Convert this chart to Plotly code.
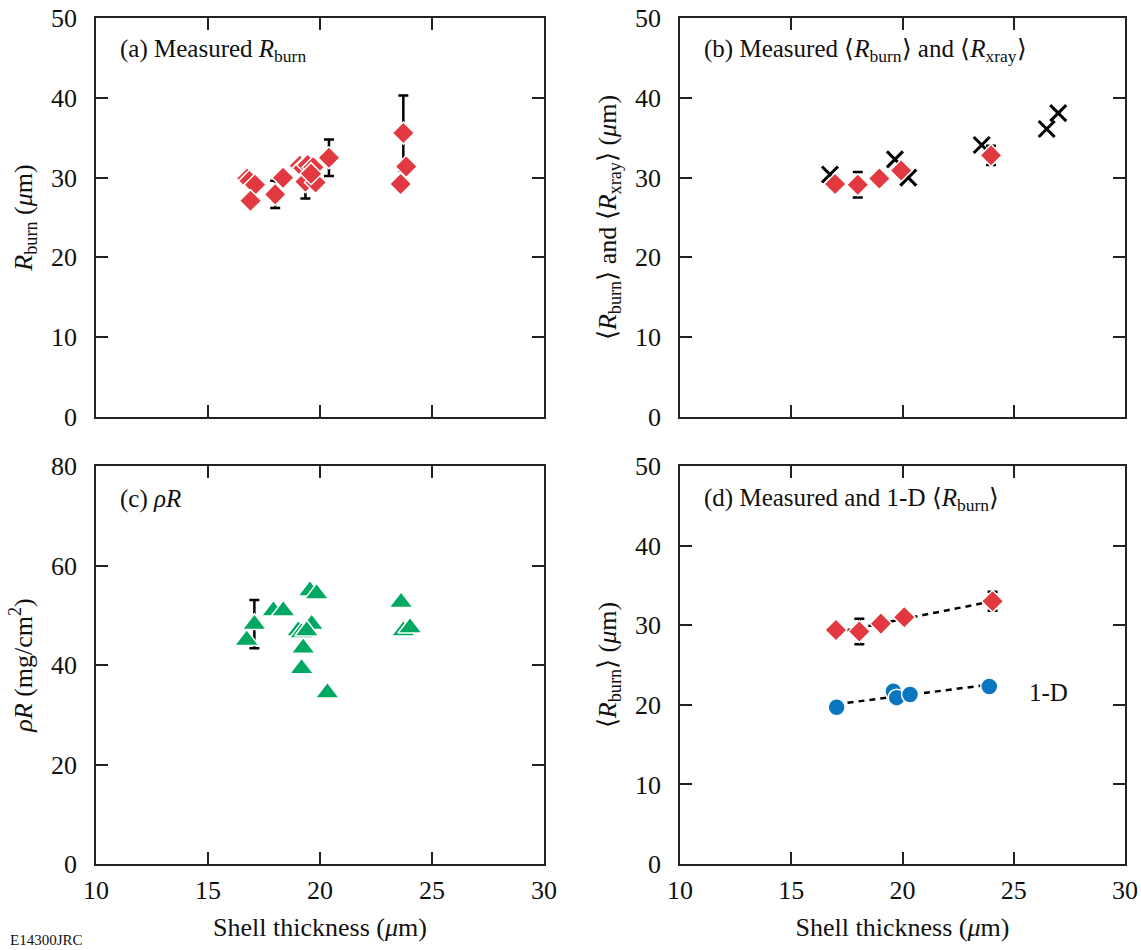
import numpy as np
import plotly.graph_objects as go
from plotly.subplots import make_subplots

# ---------------- data ----------------
# (a) Measured R_burn
a_x = [16.75, 16.85, 17.1, 16.9, 18.0, 18.35, 19.1, 19.25, 19.45, 19.7, 19.35, 19.8, 19.6, 20.4, 23.72, 23.85, 23.6]
a_y = [29.9, 29.6, 29.1, 27.1, 27.9, 30.0, 31.5, 31.2, 31.6, 31.3, 29.5, 29.4, 30.5, 32.5, 35.6, 31.4, 29.2]
a_err = [0, 0, 0, 0, 1.7, 0, 0, 0, 0, 0, 2.1, 0, 0, 2.3, 4.7, 0, 0]

# (b) Measured <R_burn> and <R_xray>
b_x = [16.97, 17.99, 18.96, 19.94, 23.98]
b_y = [29.2, 29.1, 29.9, 30.9, 32.8]
b_err = [0, 1.6, 0, 0, 1.2]
bx_x = [16.74, 19.66, 20.26, 23.56, 26.48, 27.0]
bx_y = [30.4, 32.3, 30.0, 34.1, 36.1, 38.1]

# (c) rhoR
c_x = [16.73, 17.07, 17.92, 18.36, 19.55, 19.85, 19.03, 19.18, 19.63, 19.41, 19.25, 19.18, 20.33, 23.62, 23.72, 24.02]
c_y = [45.0, 48.2, 50.9, 50.9, 54.9, 54.3, 46.9, 46.5, 48.2, 46.9, 43.4, 39.3, 34.4, 52.6, 46.9, 47.5]
c_err = [0, 4.85, 0, 0, 0, 0, 0, 0, 0, 0, 0, 0, 0, 0, 0, 0]

# (d) Measured and 1-D <R_burn>
d_x = [17.01, 18.06, 19.03, 20.08, 24.05]
d_y = [29.4, 29.2, 30.2, 31.0, 33.0]
d_err = [0, 1.6, 0, 0, 1.2]
d1_x = [17.04, 19.59, 19.74, 20.34, 23.9]
d1_y = [19.7, 21.7, 20.9, 21.3, 22.3]

x_ticks = [10, 15, 20, 25, 30]

# ---------------- style ----------------
RED = "#E1393F"
GREEN = "#00A862"
BLUE = "#0A76C0"
FONT = "Liberation Serif, Times New Roman, serif"
AX = "#222222"
TXT = "#111111"

fig = make_subplots(rows=2, cols=2)

def err(vals):
    return dict(type="data", array=vals, visible=True, color="black", thickness=2.5, width=5)

# (a)
fig.add_trace(go.Scatter(x=a_x, y=a_y, mode="markers", error_y=err(a_err),
                         marker=dict(symbol="diamond", size=17, color=RED,
                                     line=dict(color="white", width=1.5))), row=1, col=1)
# (b)
fig.add_trace(go.Scatter(x=bx_x, y=bx_y, mode="markers",
                         marker=dict(symbol="x-thin", size=16, color="black",
                                     line=dict(color="black", width=3))), row=1, col=2)
fig.add_trace(go.Scatter(x=b_x, y=b_y, mode="markers", error_y=err(b_err),
                         marker=dict(symbol="diamond", size=17, color=RED,
                                     line=dict(color="white", width=1.5))), row=1, col=2)
# (c)
fig.add_trace(go.Scatter(x=c_x, y=c_y, mode="markers", error_y=err(c_err),
                         marker=dict(symbol="triangle-up", size=21, color=GREEN,
                                     line=dict(color="white", width=1.5))), row=2, col=1)
# (d) fit lines
for xs, ys in ((d_x, d_y), (d1_x, d1_y)):
    p = np.polyfit(xs, ys, 1)
    fx = np.array([min(xs), max(xs)])
    fig.add_trace(go.Scatter(x=fx, y=np.polyval(p, fx), mode="lines",
                             line=dict(color="black", width=2.5, dash="6px,5px")), row=2, col=2)
fig.add_trace(go.Scatter(x=d_x, y=d_y, mode="markers", error_y=err(d_err),
                         marker=dict(symbol="diamond", size=17, color=RED,
                                     line=dict(color="white", width=1.5))), row=2, col=2)
fig.add_trace(go.Scatter(x=d1_x, y=d1_y, mode="markers",
                         marker=dict(symbol="circle", size=17, color=BLUE,
                                     line=dict(color="white", width=1.5))), row=2, col=2)

W, H = 1141, 950
xdom_l = [96 / W, 544 / W]
xdom_r = [680 / W, 1125 / W]
ydom_t = [1 - 416.7 / H, 1 - 18.3 / H]
ydom_b = [1 - 864 / H, 1 - 466 / H]

common = dict(showline=True, linecolor=AX, linewidth=1.5, mirror="ticks", ticks="inside",
              ticklen=12, tickwidth=1.5, tickcolor=AX, showgrid=False, zeroline=False,
              automargin=False,
              tickfont=dict(family=FONT, size=26, color=TXT))

xa = dict(range=[10, 30], tickvals=x_ticks, **common)
fig.update_layout(
    xaxis=dict(domain=xdom_l, anchor="y", showticklabels=False, **xa),
    xaxis2=dict(domain=xdom_r, anchor="y2", showticklabels=False, **xa),
    xaxis3=dict(domain=xdom_l, anchor="y3", ticklabelstandoff=2,
                title=dict(text="Shell thickness (<i>μ</i>m)", standoff=14,
                           font=dict(family=FONT, size=26, color=TXT)), **xa),
    xaxis4=dict(domain=xdom_r, anchor="y4", ticklabelstandoff=2,
                title=dict(text="Shell thickness (<i>μ</i>m)", standoff=14,
                           font=dict(family=FONT, size=26, color=TXT)), **xa),
)

def ya(dom, anchor, rng, dt, title):
    return dict(domain=dom, anchor=anchor, range=rng, dtick=dt, ticklabelstandoff=12,
                title=dict(text=title, standoff=11, font=dict(family=FONT, size=26, color=TXT)),
                **common)

fig.update_layout(
    yaxis=ya(ydom_t, "x", [0, 50], 10, "<i>R</i><sub>burn</sub> (<i>μ</i>m)"),
    yaxis2=ya(ydom_t, "x2", [0, 50], 10,
              "⟨<i>R</i><sub>burn</sub>⟩ and ⟨<i>R</i><sub>xray</sub>⟩ (<i>μ</i>m)"),
    yaxis3=ya(ydom_b, "x3", [0, 80], 20, "<i>ρR</i> (mg/cm<sup>2</sup>)"),
    yaxis4=ya(ydom_b, "x4", [0, 50], 10, "⟨<i>R</i><sub>burn</sub>⟩ (<i>μ</i>m)"),
)

lab = dict(showarrow=False, xanchor="left", yanchor="middle",
           font=dict(family=FONT, size=25, color=TXT))
fig.add_annotation(x=11, y=46.0, xref="x", yref="y", text="(a) Measured <i>R</i><sub>burn</sub>", **lab)
fig.add_annotation(x=11, y=46.0, xref="x2", yref="y2",
                   text="(b) Measured ⟨<i>R</i><sub>burn</sub>⟩ and ⟨<i>R</i><sub>xray</sub>⟩", **lab)
fig.add_annotation(x=11, y=73.3, xref="x3", yref="y3", text="(c) <i>ρR</i>", **lab)
fig.add_annotation(x=11, y=45.8, xref="x4", yref="y4",
                   text="(d) Measured and 1-D ⟨<i>R</i><sub>burn</sub>⟩", **lab)
fig.add_annotation(x=25.6, y=21.6, xref="x4", yref="y4", text="1-D", **lab)
fig.add_annotation(x=8 / W, y=10 / H, xref="paper", yref="paper", text="E14300JRC",
                   showarrow=False, xanchor="left", yanchor="middle",
                   font=dict(family=FONT, size=15, color=TXT))

fig.update_layout(width=W, height=H, margin=dict(l=0, r=0, t=0, b=0, autoexpand=False),
                  paper_bgcolor="white", plot_bgcolor="white", showlegend=False)

fig.write_html("out.html")
